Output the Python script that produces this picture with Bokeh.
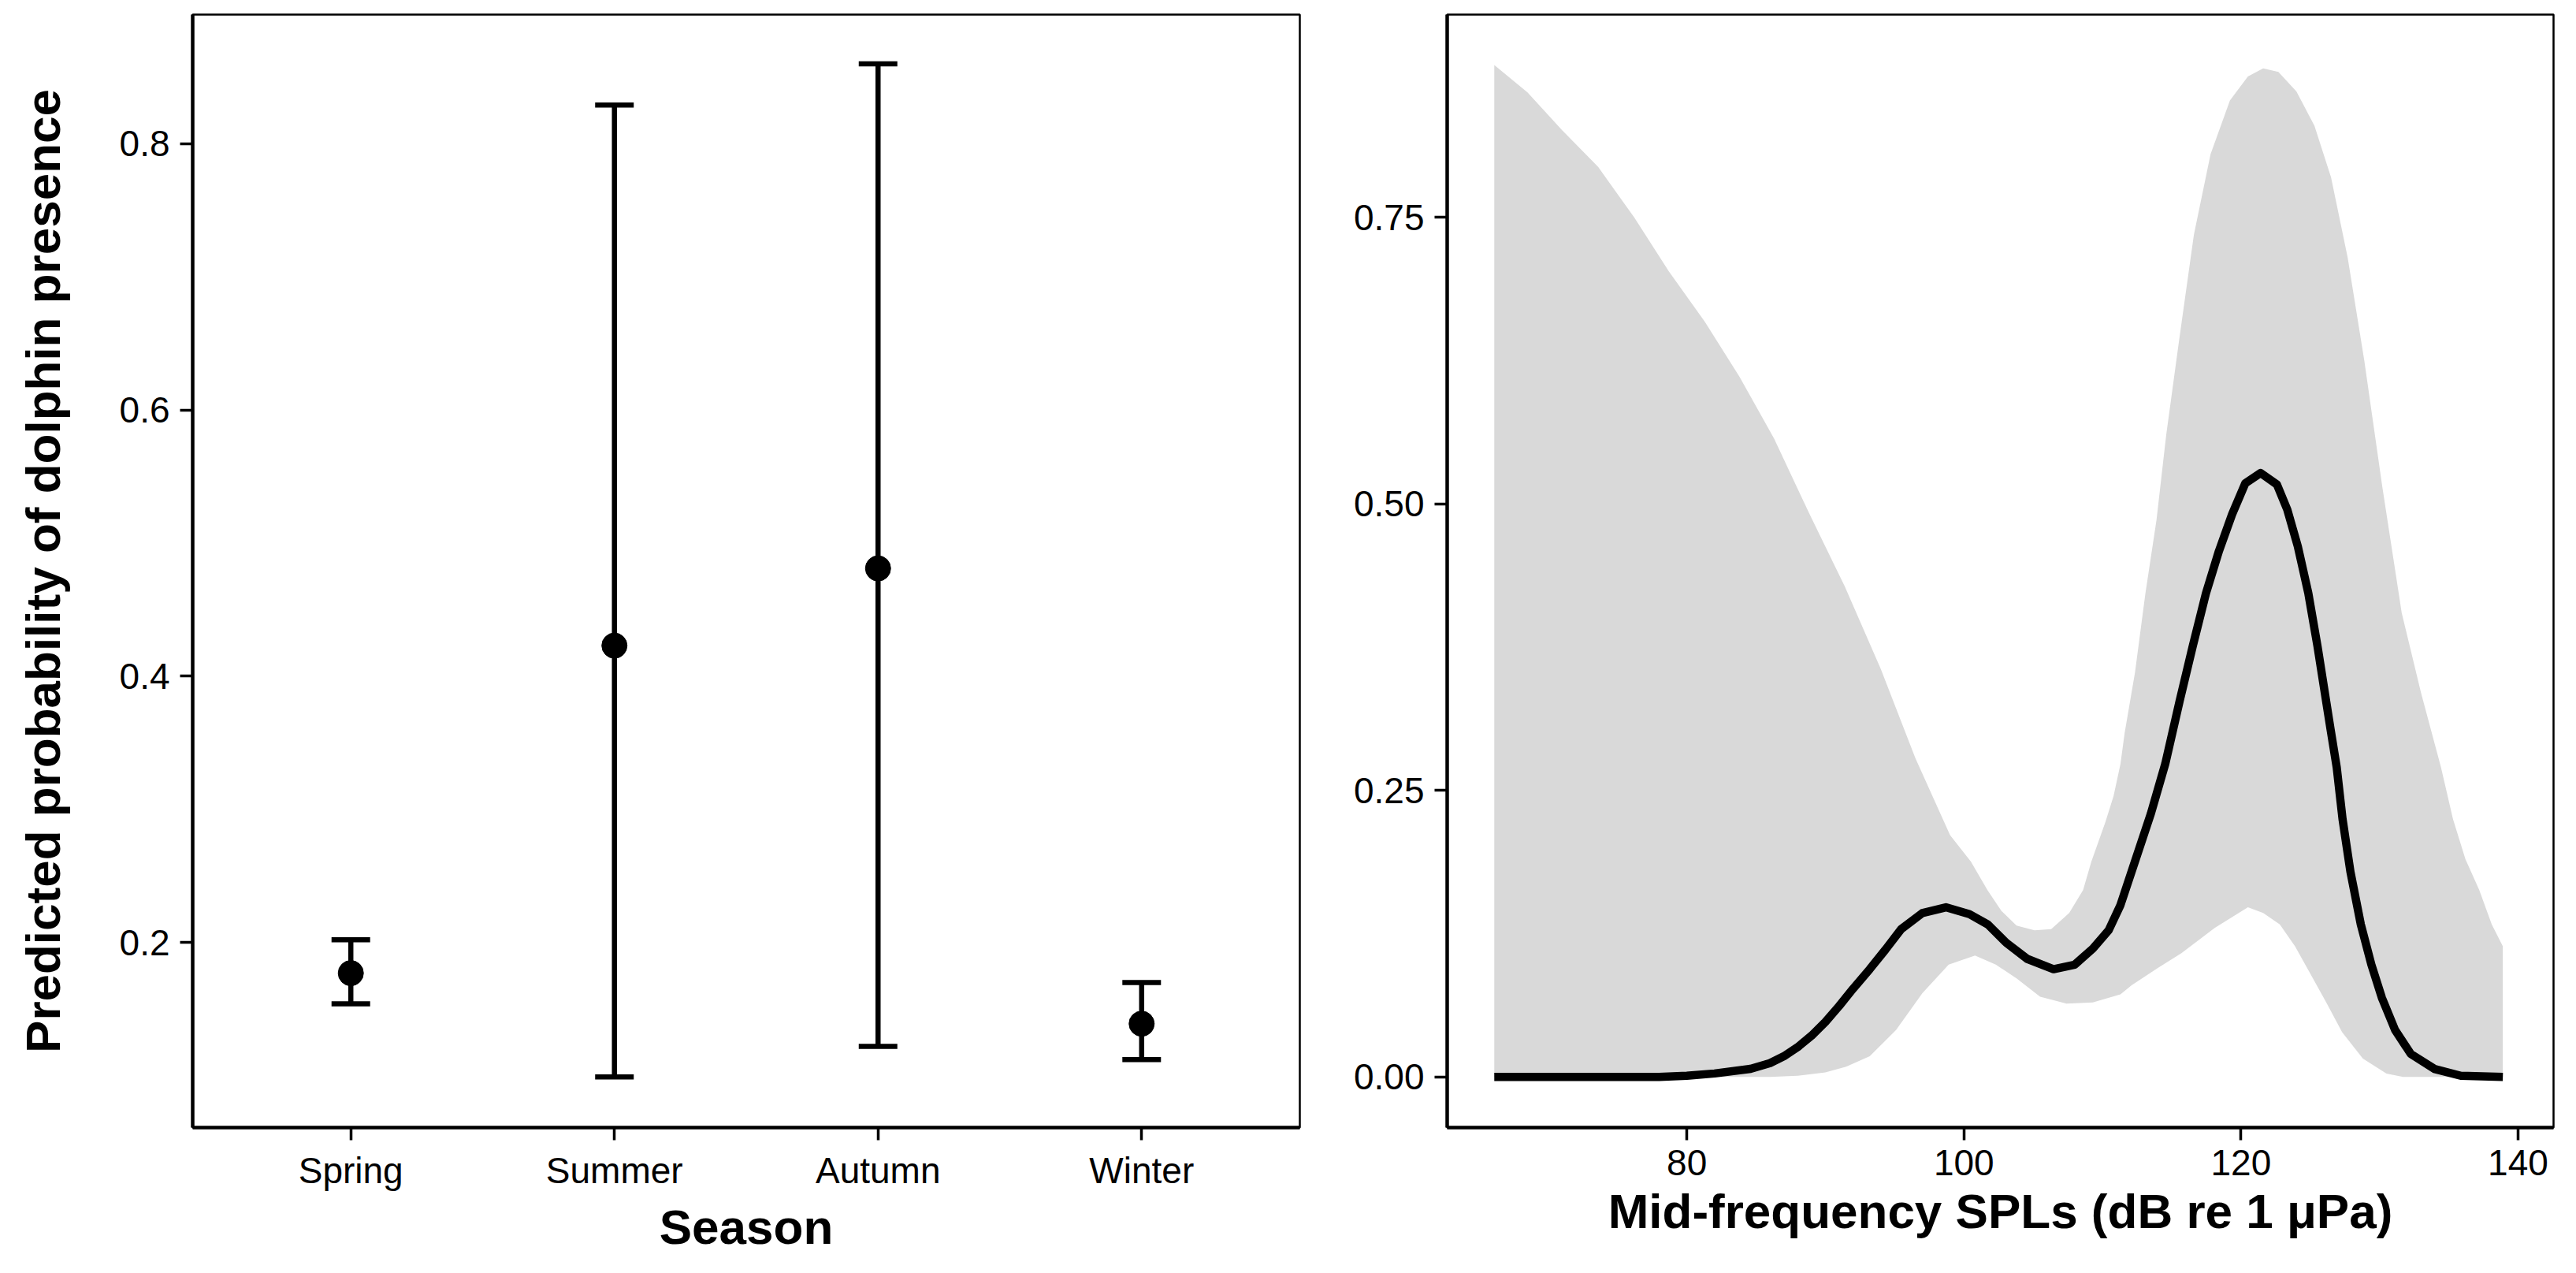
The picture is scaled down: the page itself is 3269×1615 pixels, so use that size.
from bokeh.plotting import figure
from bokeh.layouts import row
from bokeh.models import (ColumnDataSource, FactorRange, Range1d, Whisker, TeeHead,
                          FixedTicker)
from bokeh.embed import file_html
from bokeh.resources import INLINE

# ---------------- data ----------------
seasons = ["Spring", "Summer", "Autumn", "Winter"]
season_fit = [0.177, 0.423, 0.481, 0.139]
season_lower = [0.154, 0.099, 0.122, 0.112]
season_upper = [0.202, 0.829, 0.860, 0.170]

spl_fit_x = [66.1, 70.0, 74.0, 78.0, 80.0, 82.0, 84.6, 86.0, 87.0, 88.0, 89.0, 90.0, 91.0,
             92.0, 93.2, 94.33, 95.47, 97.0, 98.7, 100.4, 101.73, 103.06, 104.57, 106.47,
             108.0, 109.31, 110.45, 111.3, 112.4, 113.5, 114.53, 115.57, 116.52, 117.47,
             118.41, 119.36, 120.31, 121.41, 122.59, 123.34, 124.10, 124.86, 125.52, 126.0,
             126.47, 126.91, 127.33, 127.90, 128.65, 129.41, 130.17, 131.12, 132.26, 133.96,
             135.86, 138.9]
spl_fit_y = [0.0, 0.0, 0.0, 0.0, 0.001, 0.003, 0.007, 0.012, 0.018, 0.026, 0.036, 0.048, 0.062,
             0.077, 0.094, 0.111, 0.129, 0.143, 0.148, 0.142, 0.133, 0.117, 0.103, 0.094,
             0.098, 0.112, 0.128, 0.150, 0.190, 0.230, 0.273, 0.328, 0.376, 0.422,
             0.459, 0.491, 0.518, 0.527, 0.517, 0.495, 0.463, 0.422, 0.376, 0.339,
             0.303, 0.270, 0.225, 0.179, 0.133, 0.098, 0.069, 0.041, 0.020, 0.007,
             0.001, 0.0]

spl_upper_x = [66.1, 68.5, 71.0, 73.6, 76.2, 78.7, 81.3, 83.8, 86.3, 88.9, 91.4, 94.0, 96.5,
               99.0, 100.5, 101.7, 102.7, 103.8, 105.1, 106.3, 107.6, 108.6, 109.2, 110.2,
               110.8, 111.3, 111.6, 112.35, 113.1, 113.9, 114.6, 115.5, 116.6, 117.8, 119.2,
               120.5, 121.6, 122.7, 124.0, 125.3, 126.5, 127.7, 128.9, 130.2, 131.6, 133.0,
               134.44, 135.3, 136.2, 137.2, 138.1, 138.9]
spl_upper_y = [0.883, 0.859, 0.826, 0.794, 0.750, 0.703, 0.659, 0.611, 0.557, 0.490, 0.428,
               0.356, 0.278, 0.211, 0.188, 0.163, 0.145, 0.132, 0.128, 0.129, 0.143, 0.163,
               0.188, 0.222, 0.245, 0.273, 0.300, 0.353, 0.422, 0.486, 0.560, 0.640, 0.735,
               0.805, 0.852, 0.873, 0.880, 0.877, 0.860, 0.830, 0.785, 0.715, 0.625, 0.515,
               0.405, 0.335, 0.270, 0.225, 0.190, 0.163, 0.133, 0.114]

spl_lower_x = [66.1, 86.0, 88.0, 90.0, 91.5, 93.2, 95.1, 97.0, 98.9, 100.8, 102.3, 103.8, 105.5,
               107.4, 109.3, 111.3, 112.1, 114.0, 115.7, 118.1, 120.5, 121.6, 122.8, 123.9,
               125.05, 126.2, 127.3, 128.8, 130.5, 131.7, 138.9]
spl_lower_y = [0.0, 0.0, 0.001, 0.004, 0.009, 0.018, 0.041, 0.073, 0.098, 0.106, 0.098, 0.086,
               0.070, 0.064, 0.065, 0.072, 0.080, 0.095, 0.108, 0.130, 0.148, 0.143, 0.133,
               0.114, 0.089, 0.064, 0.039, 0.016, 0.003, 0.0, 0.0]

left_ticks = [0.2, 0.4, 0.6, 0.8]
right_yticks = [0.0, 0.25, 0.5, 0.75]
right_ylabels = ["0.00", "0.25", "0.50", "0.75"]
right_xticks = [80, 100, 120, 140]

# ---------------- styling ----------------
FONT = "Liberation Sans"
TICK_FS = "46px"
TITLE_FS = "62px"
H = 1595


def style(p):
    p.background_fill_color = "white"
    p.border_fill_color = "white"
    p.outline_line_color = "black"
    p.outline_line_width = 2.5
    p.xgrid.visible = False
    p.ygrid.visible = False
    for ax in (p.xaxis[0], p.yaxis[0]):
        ax.axis_line_color = "black"
        ax.axis_line_width = 4.5
        ax.major_tick_line_color = "black"
        ax.major_tick_line_width = 3.5
        ax.major_tick_out = 16
        ax.major_tick_in = 0
        ax.minor_tick_line_color = None
        ax.major_label_text_font = FONT
        ax.major_label_text_font_size = TICK_FS
        ax.major_label_text_color = "black"
        ax.axis_label_text_font = FONT
        ax.axis_label_text_font_size = TITLE_FS
        ax.axis_label_text_font_style = "bold"
        ax.axis_label_text_color = "black"
    p.yaxis[0].major_label_standoff = 13
    p.xaxis[0].major_label_standoff = 12
    p.xaxis[0].axis_label_standoff = 8


# ---------------- left panel ----------------
src = ColumnDataSource(dict(season=seasons, fit=season_fit,
                            lower=season_lower, upper=season_upper))

p1 = figure(x_range=FactorRange(*seasons, range_padding=0.1, range_padding_units="absolute"),
            y_range=Range1d(0.061, 0.897),
            width=1669, height=H, output_backend="svg", toolbar_location=None,
            min_border_left=244, min_border_right=20, min_border_top=18,
            min_border_bottom=H - 18 - 1412)
style(p1)
p1.yaxis[0].ticker = FixedTicker(ticks=left_ticks)
p1.xaxis.axis_label = "Season"
p1.yaxis.axis_label = "Predicted probability of dolphin presence"
p1.yaxis[0].axis_label_standoff = 60

whisk = Whisker(source=src, base="season", lower="lower", upper="upper",
                dimension="height", line_color="black", line_width=6.5,
                upper_head=TeeHead(size=49, line_color="black", line_width=6.5),
                lower_head=TeeHead(size=49, line_color="black", line_width=6.5))
p1.add_layout(whisk)
p1.scatter(x="season", y="fit", source=src, size=32, color="black")

# ---------------- right panel ----------------
p2 = figure(x_range=Range1d(62.7, 142.56), y_range=Range1d(-0.0442, 0.927),
            width=1581, height=H, output_backend="svg", toolbar_location=None,
            min_border_left=167, min_border_right=10, min_border_top=18,
            min_border_bottom=H - 18 - 1412)
style(p2)
p2.xaxis[0].ticker = FixedTicker(ticks=right_xticks)
p2.yaxis[0].ticker = FixedTicker(ticks=right_yticks)
p2.yaxis[0].major_label_overrides = {t: l for t, l in zip(right_yticks, right_ylabels)}
p2.xaxis.axis_label = "Mid-frequency SPLs (dB re 1 \u03bcPa)"

band_x = spl_upper_x + spl_lower_x[::-1]
band_y = spl_upper_y + spl_lower_y[::-1]
p2.patch(band_x, band_y, fill_color="#d9d9d9", line_color=None)
p2.line(spl_fit_x, spl_fit_y, line_color="black", line_width=10.5, line_join="round")

layout = row(p1, p2, spacing=0)
open("out.html", "w").write(file_html(layout, INLINE))
